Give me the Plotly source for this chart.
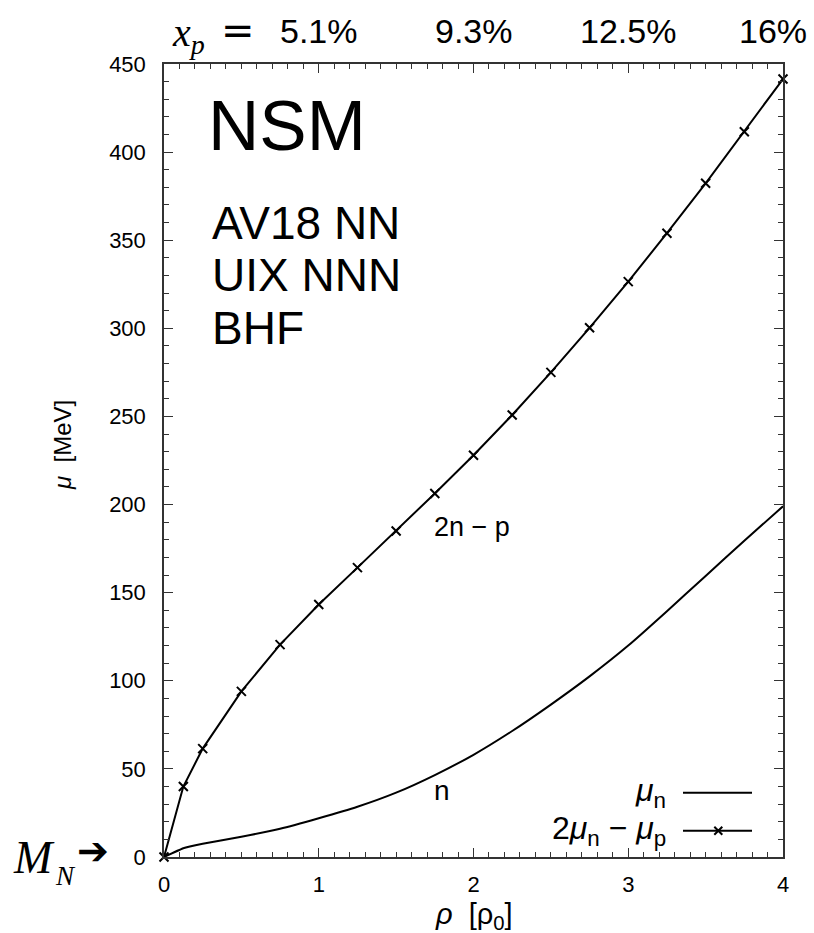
import plotly.graph_objects as go

# ---- data ----
rho = [0, 0.125, 0.25, 0.5, 0.75, 1.0, 1.25, 1.5, 1.75, 2.0, 2.25, 2.5, 2.75, 3.0, 3.25, 3.5, 3.75, 4.0]
mu_n = [0, 5, 7.5, 11.5, 16, 22, 28.5, 36.5, 46.5, 58, 71.5, 86.5, 102.5, 120, 139.5, 159.5, 179.5, 199]
mu_2n_p = [0, 40, 61.5, 94, 120.5, 143.3, 164.2, 185, 206.3, 228, 250.8, 275, 300.3, 326.5, 354, 382.3, 411.6, 441.5]

xp_pos = [1, 2, 3]
xp_labels = ["5.1%", "9.3%", "12.5%"]
xp_last = "16%"

x_ticks = [0, 1, 2, 3, 4]
y_ticks = [0, 50, 100, 150, 200, 250, 300, 350, 400, 450]

SANS = "Liberation Sans, Arial, sans-serif"
SERIF = "Liberation Serif, DejaVu Serif, serif"
NB = "\u00a0"

fig = go.Figure()
fig.add_trace(go.Scatter(x=rho, y=mu_n, mode="lines",
                         line=dict(color="black", width=2, shape="spline", smoothing=0.4),
                         showlegend=False))
fig.add_trace(go.Scatter(x=rho, y=mu_2n_p, mode="lines+markers",
                         line=dict(color="black", width=2),
                         marker=dict(symbol="x-thin", size=9, line=dict(color="black", width=2)),
                         showlegend=False, cliponaxis=False))

axis_common = dict(showline=True, linecolor="#333", linewidth=1.5, mirror="ticks",
                   ticks="inside", ticklen=9, tickwidth=1.2, tickcolor="#333",
                   showgrid=False, zeroline=False,
                   tickfont=dict(family=SANS, size=22, color="black"))

fig.update_xaxes(range=[0, 4], tickvals=x_ticks, ticklabelstandoff=7,
                 minor=dict(dtick=0.1, ticks="inside", ticklen=5, tickcolor="#333", tickwidth=1),
                 **axis_common)
fig.update_yaxes(range=[0, 450], tickvals=y_ticks, ticklabelstandoff=12,
                 minor=dict(dtick=10, ticks="inside", ticklen=5, tickcolor="#333", tickwidth=1),
                 **axis_common)

ann = []
# axis titles
ann.append(dict(x=(474 - 164) / 619, y=(857 - 916) / 793, xref="paper", yref="paper",
                xanchor="center", yanchor="middle",
                text="<i>ρ</i>" + NB * 2 + "[ρ<sub>0</sub>]", showarrow=False,
                font=dict(family=SANS, size=29, color="black")))
ann.append(dict(x=(62 - 164) / 619, y=(857 - 445) / 793, xref="paper", yref="paper",
                xanchor="center", yanchor="middle", textangle=-90,
                text="<i>μ</i>" + NB * 2 + "[MeV]", showarrow=False,
                font=dict(family=SANS, size=24, color="black")))

# top x_p labels
ann.append(dict(x=(170 - 164) / 619, y=1.037, xref="paper", yref="paper", xanchor="left", yanchor="middle",
                text="<i>x</i><sub><i>p</i></sub>", showarrow=False,
                font=dict(family=SERIF, size=40, color="black")))
ann.append(dict(x=(238 - 164) / 619, y=1.043, xref="paper", yref="paper", xanchor="center", yanchor="middle",
                text="=", showarrow=False,
                font=dict(family="DejaVu Sans, sans-serif", size=40, color="black")))
for xv, t in zip(xp_pos, xp_labels):
    ann.append(dict(x=xv, y=1.041, xref="x", yref="paper", xanchor="center", yanchor="middle",
                    text=t, showarrow=False, font=dict(family=SANS, size=34, color="black")))
ann.append(dict(x=(809 - 164) / 619, y=1.041, xref="paper", yref="paper", xanchor="right", yanchor="middle",
                text=xp_last, showarrow=False, font=dict(family=SANS, size=34, color="black")))

# in-plot labels
ann.append(dict(x=0.27, y=415, xref="x", yref="y", xanchor="left", yanchor="middle",
                text="NSM", showarrow=False, font=dict(family=SANS, size=71, color="black")))
for yv, t in zip([360, 330, 300], ["AV18 NN", "UIX NNN", "BHF"]):
    ann.append(dict(x=0.3, y=yv, xref="x", yref="y", xanchor="left", yanchor="middle",
                    text=t, showarrow=False, font=dict(family=SANS, size=46, color="black")))
ann.append(dict(x=1.73, y=187, xref="x", yref="y", xanchor="left", yanchor="middle",
                text="2n − p", showarrow=False, font=dict(family=SANS, size=27, color="black")))
ann.append(dict(x=1.73, y=38, xref="x", yref="y", xanchor="left", yanchor="middle",
                text="n", showarrow=False, font=dict(family=SANS, size=28, color="black")))

# M_N arrow
ann.append(dict(x=(11 - 164) / 619, y=0.0, xref="paper", yref="paper", xanchor="left", yanchor="middle",
                text="<i>M</i>", showarrow=False,
                font=dict(family=SERIF, size=46, color="black")))
ann.append(dict(x=(53 - 164) / 619, y=(857 - 876) / 793, xref="paper", yref="paper",
                xanchor="left", yanchor="middle",
                text="<i>N</i>", showarrow=False,
                font=dict(family=SERIF, size=27, color="black")))
ann.append(dict(x=(93 - 164) / 619, y=0.008, xref="paper", yref="paper", xanchor="center", yanchor="middle",
                text="<b>➔</b>", showarrow=False,
                font=dict(family="DejaVu Sans, sans-serif", size=38, color="black")))

# custom legend (text left, sample right)
ann.append(dict(x=(668 - 164) / 619, y=0.081, xref="paper", yref="paper", xanchor="right", yanchor="middle",
                text="<i>μ</i><sub>n</sub>", showarrow=False, font=dict(family=SANS, size=32, color="black")))
ann.append(dict(x=(668 - 164) / 619, y=0.033, xref="paper", yref="paper", xanchor="right", yanchor="middle",
                text="2<i>μ</i><sub>n</sub> − <i>μ</i><sub>p</sub>", showarrow=False,
                font=dict(family=SANS, size=32, color="black")))

shapes = [
    dict(type="line", xref="paper", yref="paper", x0=(683 - 164) / 619, x1=(752 - 164) / 619,
         y0=(857 - 792.7) / 793, y1=(857 - 792.7) / 793, line=dict(color="black", width=2)),
    dict(type="line", xref="paper", yref="paper", x0=(683 - 164) / 619, x1=(752 - 164) / 619,
         y0=(857 - 830.7) / 793, y1=(857 - 830.7) / 793, line=dict(color="black", width=2)),
    dict(type="path", xref="paper", yref="paper", xsizemode="pixel", ysizemode="pixel",
         xanchor=(718.3 - 164) / 619, yanchor=(857 - 830.7) / 793, path="M-4,-4 L4,4 M-4,4 L4,-4",
         line=dict(color="black", width=2)),
]

fig.update_layout(width=814, height=933, margin=dict(l=164, r=31, t=64, b=76, autoexpand=False),
                  plot_bgcolor="white", paper_bgcolor="white",
                  annotations=ann, shapes=shapes, showlegend=False)

fig.write_html("out.html")
